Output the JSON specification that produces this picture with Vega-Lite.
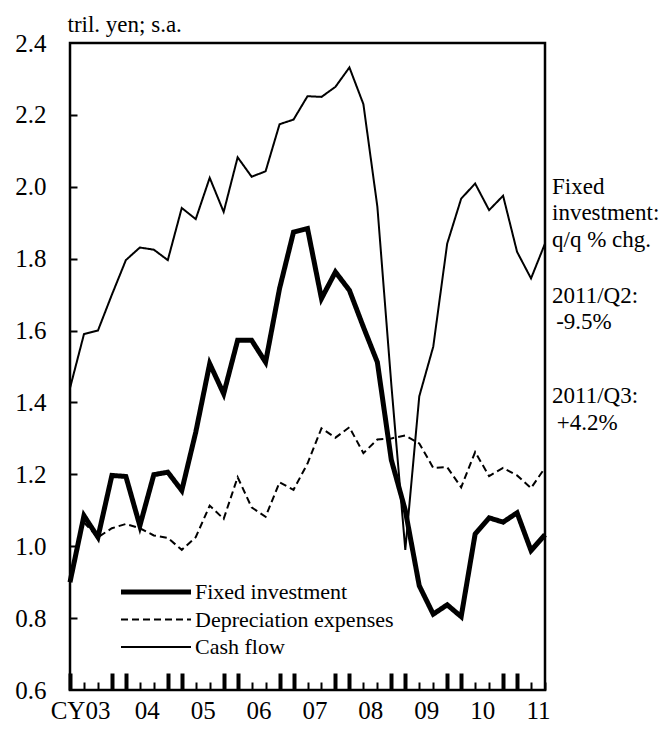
{
  "$schema": "https://vega.github.io/schema/vega-lite/v6.json",
  "width": 475,
  "height": 647,
  "autosize": {"type": "none"},
  "padding": {"left": 70, "top": 43, "right": 120, "bottom": 43},
  "background": "white",
  "config": {
    "view": {"stroke": "black", "strokeWidth": 2.5},
    "font": "Liberation Serif",
    "axis": {"grid": false, "domain": false, "labelFont": "Liberation Serif", "labelColor": "black", "tickColor": "black", "titleFont": "Liberation Serif", "titleColor": "black", "titleFontWeight": "normal"},
    "legend": {"labelFont": "Liberation Serif"},
    "text": {"font": "Liberation Serif", "color": "black"}
  },
  "datasets": {
    "main": [
      {"t": 2003.00, "fixed": 0.900, "cash": 1.440},
      {"t": 2003.25, "fixed": 1.085, "depreciation": 1.066, "cash": 1.590},
      {"t": 2003.50, "fixed": 1.025, "depreciation": 1.025, "cash": 1.600},
      {"t": 2003.75, "fixed": 1.197, "depreciation": 1.050, "cash": 1.700},
      {"t": 2004.00, "fixed": 1.194, "depreciation": 1.062, "cash": 1.796},
      {"t": 2004.25, "fixed": 1.057, "depreciation": 1.050, "cash": 1.831},
      {"t": 2004.50, "fixed": 1.199, "depreciation": 1.030, "cash": 1.825},
      {"t": 2004.75, "fixed": 1.206, "depreciation": 1.023, "cash": 1.796},
      {"t": 2005.00, "fixed": 1.155, "depreciation": 0.990, "cash": 1.941},
      {"t": 2005.25, "fixed": 1.317, "depreciation": 1.025, "cash": 1.910},
      {"t": 2005.50, "fixed": 1.508, "depreciation": 1.113, "cash": 2.025},
      {"t": 2005.75, "fixed": 1.424, "depreciation": 1.076, "cash": 1.930},
      {"t": 2006.00, "fixed": 1.573, "depreciation": 1.192, "cash": 2.082},
      {"t": 2006.25, "fixed": 1.573, "depreciation": 1.108, "cash": 2.028},
      {"t": 2006.50, "fixed": 1.512, "depreciation": 1.082, "cash": 2.043},
      {"t": 2006.75, "fixed": 1.717, "depreciation": 1.178, "cash": 2.174},
      {"t": 2007.00, "fixed": 1.874, "depreciation": 1.157, "cash": 2.187},
      {"t": 2007.25, "fixed": 1.884, "depreciation": 1.230, "cash": 2.252},
      {"t": 2007.50, "fixed": 1.689, "depreciation": 1.328, "cash": 2.250},
      {"t": 2007.75, "fixed": 1.763, "depreciation": 1.302, "cash": 2.278},
      {"t": 2008.00, "fixed": 1.712, "depreciation": 1.331, "cash": 2.332},
      {"t": 2008.25, "fixed": 1.610, "depreciation": 1.259, "cash": 2.230},
      {"t": 2008.50, "fixed": 1.512, "depreciation": 1.297, "cash": 1.945},
      {"t": 2008.75, "fixed": 1.240, "depreciation": 1.300, "cash": 1.450},
      {"t": 2009.00, "fixed": 1.100, "depreciation": 1.308, "cash": 0.990},
      {"t": 2009.25, "fixed": 0.890, "depreciation": 1.286, "cash": 1.417},
      {"t": 2009.50, "fixed": 0.811, "depreciation": 1.218, "cash": 1.555},
      {"t": 2009.75, "fixed": 0.837, "depreciation": 1.220, "cash": 1.842},
      {"t": 2010.00, "fixed": 0.804, "depreciation": 1.164, "cash": 1.967},
      {"t": 2010.25, "fixed": 1.034, "depreciation": 1.262, "cash": 2.009},
      {"t": 2010.50, "fixed": 1.079, "depreciation": 1.195, "cash": 1.935},
      {"t": 2010.75, "fixed": 1.067, "depreciation": 1.218, "cash": 1.975},
      {"t": 2011.00, "fixed": 1.093, "depreciation": 1.197, "cash": 1.819},
      {"t": 2011.25, "fixed": 0.988, "depreciation": 1.162, "cash": 1.745},
      {"t": 2011.50, "fixed": 1.032, "depreciation": 1.218, "cash": 1.842}
    ],
    "notes": [
      {"t": 2011.625, "v": 2.000, "text": "Fixed"},
      {"t": 2011.625, "v": 1.926, "text": "investment:"},
      {"t": 2011.625, "v": 1.851, "text": "q/q % chg."}
    ],
    "notes2": [
      {"t": 2011.625, "v": 1.695, "text": "2011/Q2:"},
      {"t": 2011.70, "v": 1.623, "text": "-9.5%"},
      {"t": 2011.625, "v": 1.417, "text": "2011/Q3:"},
      {"t": 2011.71, "v": 1.344, "text": "+4.2%"}
    ]
  },
  "resolve": {"axis": {"x": "independent", "y": "independent"}},
  "layer": [
    {
      "data": {"name": "main"},
      "transform": [{"fold": ["fixed", "depreciation", "cash"], "as": ["series", "value"]}],
      "mark": {"type": "line", "color": "black", "strokeJoin": "miter"},
      "encoding": {
        "x": {"field": "t", "type": "quantitative",
          "scale": {"domain": [2003, 2011.5], "nice": false, "zero": false},
          "axis": {"orient": "bottom", "values": [2003.18, 2004.375, 2005.375, 2006.375, 2007.375, 2008.375, 2009.375, 2010.375, 2011.375],
            "labelExpr": "datum.value < 2004 ? 'CY03' : slice(toString(floor(datum.value)), 2)",
            "ticks": false, "labelFontSize": 25, "labelPadding": 8, "title": null, "labelFlush": false, "labelOverlap": false, "labelBound": false}},
        "y": {"field": "value", "type": "quantitative",
          "scale": {"domain": [0.6, 2.4], "nice": false, "zero": false},
          "axis": {"orient": "left", "values": [0.6, 0.8, 1.0, 1.2, 1.4, 1.6, 1.8, 2.0, 2.2, 2.4], "format": ".1f",
            "ticks": false, "labelFontSize": 25, "labelPadding": 24, "labelFlush": false, "labelOverlap": false,
            "title": "tril. yen; s.a.", "titleAngle": 0, "titleAlign": "left", "titleBaseline": "alphabetic",
            "titleX": -3, "titleY": -12, "titleFontSize": 23}},
        "strokeDash": {"field": "series", "type": "nominal",
          "scale": {"domain": ["fixed", "depreciation", "cash"], "range": [[1, 0], [7, 4], [1, 0]]},
          "legend": {"orient": "none", "legendX": 75, "legendY": 538, "title": null, "padding": 0,
            "symbolType": "M-7,0H7", "symbolSize": 100, "symbolStrokeColor": "black",
            "labelFont": "Liberation Serif", "labelFontSize": 22, "labelColor": "black", "labelOffset": 28, "rowPadding": 5.5, "labelLimit": 0,
            "labelExpr": "datum.label == 'fixed' ? 'Fixed investment' : datum.label == 'depreciation' ? 'Depreciation expenses' : 'Cash flow'"}},
        "strokeWidth": {"field": "series", "type": "nominal",
          "scale": {"type": "ordinal", "domain": ["fixed", "depreciation", "cash"], "range": [5, 2, 2]},
          "legend": {"orient": "none", "legendX": 75, "legendY": 538, "title": null, "padding": 0,
            "symbolType": "M-7,0H7", "symbolSize": 100, "symbolStrokeColor": "black",
            "labelFont": "Liberation Serif", "labelFontSize": 22, "labelColor": "black", "labelOffset": 28, "rowPadding": 5.5, "labelLimit": 0,
            "labelExpr": "datum.label == 'fixed' ? 'Fixed investment' : datum.label == 'depreciation' ? 'Depreciation expenses' : 'Cash flow'"}}
      }
    },
    {
      "data": {"name": "notes"},
      "mark": {"type": "text", "align": "left", "baseline": "middle", "fontSize": 23, "font": "Liberation Serif", "color": "black"},
      "encoding": {
        "x": {"field": "t", "type": "quantitative",
          "scale": {"domain": [2003, 2011.5], "nice": false, "zero": false},
          "axis": {"orient": "bottom", "values": [2003.25, 2003.5, 2004.25, 2004.5, 2005.25, 2005.5, 2006.25, 2006.5, 2007.25, 2007.5, 2008.25, 2008.5, 2009.25, 2009.5, 2010.25, 2010.5, 2011.25, 2011.5],
            "labels": false, "ticks": true, "tickSize": -8, "tickWidth": 2, "title": null}},
        "y": {"field": "v", "type": "quantitative",
          "scale": {"domain": [0.6, 2.4], "nice": false, "zero": false},
          "axis": {"orient": "left", "values": [0.8, 1.0, 1.2, 1.4, 1.6, 1.8, 2.0, 2.2],
            "labels": false, "ticks": true, "tickSize": -7, "tickWidth": 2, "title": null}},
        "text": {"field": "text", "type": "nominal"}
      }
    },
    {
      "data": {"name": "notes2"},
      "mark": {"type": "text", "align": "left", "baseline": "middle", "fontSize": 23, "font": "Liberation Serif", "color": "black"},
      "encoding": {
        "x": {"field": "t", "type": "quantitative",
          "scale": {"domain": [2003, 2011.5], "nice": false, "zero": false},
          "axis": {"orient": "bottom", "values": [2003, 2003.75, 2004, 2004.75, 2005, 2005.75, 2006, 2006.75, 2007, 2007.75, 2008, 2008.75, 2009, 2009.75, 2010, 2010.75, 2011],
            "labels": false, "ticks": true, "tickSize": -17, "tickWidth": 4, "title": null}},
        "y": {"field": "v", "type": "quantitative",
          "scale": {"domain": [0.6, 2.4], "nice": false, "zero": false},
          "axis": null},
        "text": {"field": "text", "type": "nominal"}
      }
    }
  ]
}
